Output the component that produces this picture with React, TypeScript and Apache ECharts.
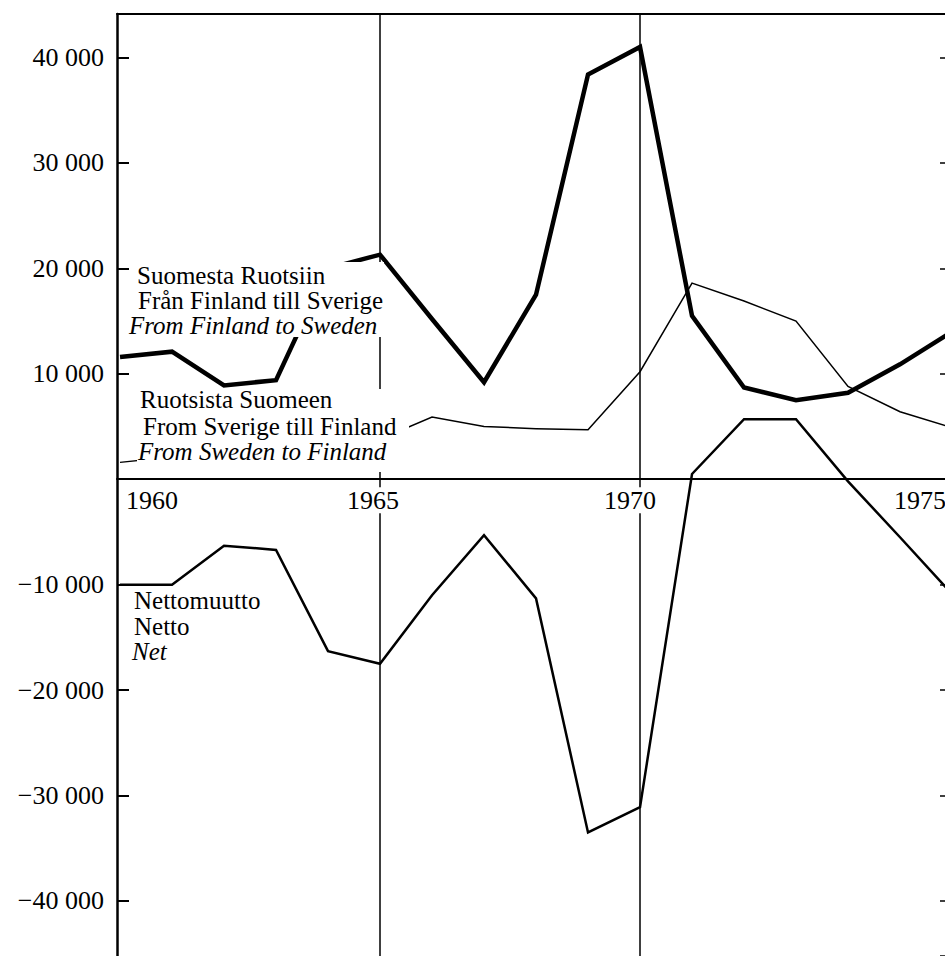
import React, { useEffect, useRef } from 'react';
import * as echarts from 'echarts';

// ---- Data ----
const YEARS = [1960, 1961, 1962, 1963, 1964, 1965, 1966, 1967, 1968, 1969, 1970, 1971, 1972, 1973, 1974, 1975, 1976];
// Suomesta Ruotsiin / Från Finland till Sverige / From Finland to Sweden
const EMIGRATION = [11600, 12100, 8900, 9400, 20000, 21300, 15200, 9200, 17500, 38400, 41000, 15500, 8700, 7500, 8200, 10900, 14000];
// Ruotsista Suomeen / Från Sverige till Finland / From Sweden to Finland
const IMMIGRATION = [1600, 2100, 2600, 2700, 3700, 3800, 5900, 5000, 4800, 4700, 10200, 18600, 16900, 15000, 8800, 6400, 4900];
// Nettomuutto / Netto / Net
const NET = [-10000, -10000, -6300, -6700, -16300, -17500, -11000, -5300, -11300, -33500, -31100, 500, 5700, 5700, -200, -5500, -10900];

const X_LABEL_YEARS = [1960, 1965, 1970, 1975];
const VLINE_YEARS = [1965, 1970];
const Y_TICKS = [-40000, -30000, -20000, -10000, 10000, 20000, 30000, 40000];
const Y_TICK_STEP = 10000;

// visible window of the (cropped) figure
const X_MIN = 1959.942;
const X_MAX = 1975.865;
const Y_MIN = -45220;
const Y_MAX = 44128;

const CHART_W = 945;
const CHART_H = 956;
const GRID_LEFT = 117;
const LEFT_TICK_PX = 12;

const FONT = '"Liberation Serif", "Times New Roman", serif';
const FS = 25;
const TICK_FS = 26;

const fmtY = (v: number) => {
  if (v === 0 || Math.abs(v % Y_TICK_STEP) > 1e-6) return '';
  const k = Math.abs(v) / 1000;
  return (v < 0 ? '\u2212' : '') + k + ' 000';
};

export default function App() {
  const ref = useRef<HTMLDivElement>(null);

  useEffect(() => {
    const chart = echarts.init(ref.current as HTMLDivElement, null, { renderer: 'svg' });
    const pairs = (vals: number[]) => YEARS.map((y, i) => [y, vals[i]]);
    const black = '#000';

    // length of the inward left tick marks, expressed in x-axis units
    const pxPerYear = (CHART_W - GRID_LEFT) / (X_MAX - X_MIN);
    const tickEnd = X_MIN + LEFT_TICK_PX / pxPerYear;

    const tok = (extra: any) => ({ fontFamily: FONT, fontSize: TICK_FS, color: black, lineHeight: 28, ...extra });
    const xRich: any = {
      y1960: tok({ padding: [0, 0, 0, 64] }),
      y1965: tok({ padding: [0, 14, 0, 0], backgroundColor: '#fff' }),
      y1970: tok({ padding: [0, 20, 0, 0], backgroundColor: '#fff' }),
      y1975: tok({ padding: [0, 0, 0, 40] }),
    };

    const textEl = (text: string, x: number, y: number, italic = false) => ({
      type: 'text',
      x,
      y,
      z: 101,
      style: {
        text,
        fill: black,
        font: `${italic ? 'italic ' : ''}${FS}px ${FONT}`,
        align: 'left',
        verticalAlign: 'middle',
      },
    });

    const yBase = {
      type: 'value',
      min: Y_MIN,
      max: Y_MAX,
      splitNumber: 9,
      minInterval: Y_TICK_STEP,
      maxInterval: Y_TICK_STEP,
      splitLine: { show: false },
    };

    const option: any = {
      animation: false,
      backgroundColor: '#fff',
      grid: { left: GRID_LEFT, right: 0, top: 14, bottom: 0, containLabel: false, outerBoundsMode: 'none' },
      xAxis: [
        {
          type: 'value',
          min: X_MIN,
          max: X_MAX,
          splitNumber: 3,
          minInterval: 5,
          maxInterval: 5,
          z: 10,
          axisLine: { show: true, onZero: true, lineStyle: { color: black, width: 2 } },
          axisTick: { show: false },
          splitLine: { show: false },
          axisLabel: { show: false },
        },
        {
          type: 'value',
          position: 'top',
          min: X_MIN,
          max: X_MAX,
          axisLine: { show: true, onZero: false, lineStyle: { color: black, width: 2 } },
          axisTick: { show: false },
          axisLabel: { show: false },
          splitLine: { show: false },
        },
      ],
      yAxis: [
        {
          ...yBase,
          position: 'left',
          axisLine: { show: true, onZero: false, lineStyle: { color: black, width: 2.5 } },
          axisTick: { show: true, inside: true, length: LEFT_TICK_PX, lineStyle: { color: black, width: 2 } },
          axisLabel: {
            show: true,
            margin: 13,
            showMinLabel: false,
            showMaxLabel: false,
            color: black,
            fontFamily: FONT,
            fontSize: TICK_FS,
            padding: [0, 0, 8, 0],
            formatter: fmtY,
          },
        },
        {
          ...yBase,
          position: 'right',
          axisLine: { show: false, onZero: false },
          axisTick: { show: true, inside: true, length: 5, lineStyle: { color: black, width: 1.5 } },
          axisLabel: { show: false },
        },
      ],
      series: [
        {
          name: 'Suomesta Ruotsiin',
          type: 'line',
          data: pairs(EMIGRATION),
          symbol: 'none',
          z: 3,
          lineStyle: { color: black, width: 4.5, join: 'miter' },
          markLine: {
            silent: true,
            symbol: ['none', 'none'],
            label: { show: false },
            lineStyle: { color: black, width: 1.5, type: 'solid' },
            data: VLINE_YEARS.map((y) => ({ xAxis: y })),
          },
        },
        {
          name: 'Ruotsista Suomeen',
          type: 'line',
          data: pairs(IMMIGRATION),
          symbol: 'none',
          z: 3,
          lineStyle: { color: black, width: 1.5, join: 'miter' },
          markLine: {
            // inward tick marks on the left frame line
            silent: true,
            symbol: ['none', 'none'],
            label: { show: false },
            lineStyle: { color: black, width: 2, type: 'solid' },
            data: Y_TICKS.map((v) => [{ coord: [X_MIN, v] }, { coord: [tickEnd, v] }]),
          },
        },
        {
          name: 'Nettomuutto',
          type: 'line',
          data: pairs(NET),
          symbol: 'none',
          z: 3,
          lineStyle: { color: black, width: 2.5, join: 'miter' },
        },
        {
          // year labels sitting under the zero line
          name: 'year labels',
          type: 'scatter',
          data: X_LABEL_YEARS.map((y) => [y, 0]),
          symbolSize: 0,
          silent: true,
          z: 10,
          itemStyle: { opacity: 1, color: black },
          label: {
            show: true,
            position: 'bottom',
            distance: 7,
            color: black,
            opacity: 1,
            formatter: (p: any) => `{y${p.value[0]}|${p.value[0]}}`,
            rich: xRich,
          },
        },
      ],
      graphic: {
        elements: [
          { type: 'rect', z: 100, shape: { x: 130, y: 262, width: 254, height: 75 }, style: { fill: '#fff' } },
          { type: 'rect', z: 100, shape: { x: 137, y: 389, width: 272, height: 83 }, style: { fill: '#fff' } },
          textEl('Suomesta Ruotsiin', 137, 275),
          textEl('Från Finland till Sverige', 138, 300),
          textEl('From Finland to Sweden', 129, 325, true),
          textEl('Ruotsista Suomeen', 140, 399),
          textEl('From Sverige till Finland', 143, 426),
          textEl('From Sweden to Finland', 138, 451, true),
          textEl('Nettomuutto', 134, 600),
          textEl('Netto', 134, 626),
          textEl('Net', 132, 651, true),
        ],
      },
    };

    chart.setOption(option);
    return () => chart.dispose();
  }, []);

  return (
    <div
      ref={ref}
      style={{ position: 'absolute', left: 0, top: 0, width: CHART_W, height: CHART_H, background: '#fff' }}
    />
  );
}
